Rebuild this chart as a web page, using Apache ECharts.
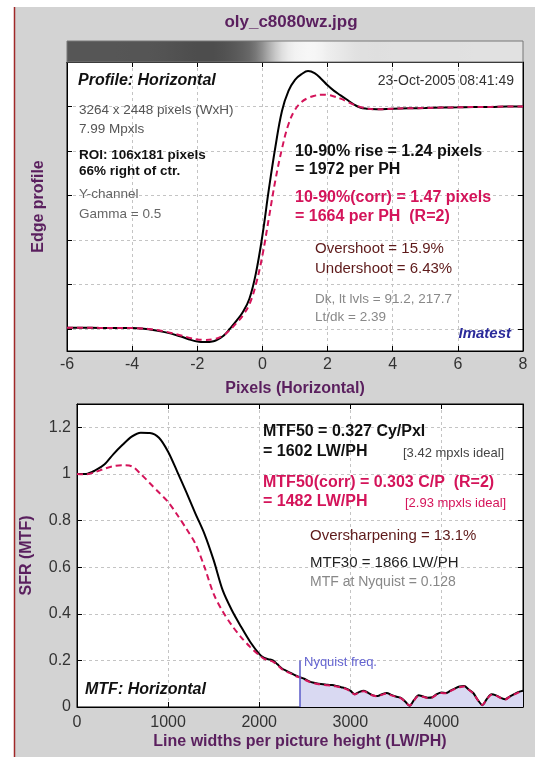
<!DOCTYPE html>
<html>
<head>
<meta charset="utf-8">
<script src="https://cdn.jsdelivr.net/npm/echarts@6.0.0/dist/echarts.min.js"></script>
<style>
  html, body { margin: 0; padding: 0; background: #fff; }
  #chart { width: 535px; height: 757px; }
</style>
</head>
<body>
<div id="chart"></div>
<script>
// edge profile (pixels, normalised level: dark = 0, light = 1)
var profX = [-6, -5.5, -5, -4.5, -4, -3.5, -3, -2.5, -2.2, -2, -1.8, -1.5, -1.2, -1, -0.8, -0.6, -0.4, -0.2, 0, 0.2, 0.4, 0.6, 0.8, 1, 1.2, 1.4, 1.6, 1.8, 2, 2.2, 2.4, 2.6, 2.8, 3, 3.2, 3.5, 4, 4.5, 5, 5.5, 6, 6.5, 7, 7.5, 8];
var profBlack = [0.005, 0.005, 0.004, 0.004, 0.003, -0.002, -0.015, -0.035, -0.05, -0.057, -0.06, -0.056, -0.032, 0.0, 0.035, 0.075, 0.135, 0.25, 0.42, 0.63, 0.82, 0.98, 1.07, 1.12, 1.145, 1.159, 1.15, 1.125, 1.095, 1.07, 1.05, 1.03, 1.01, 0.995, 0.99, 0.988, 0.99, 0.992, 0.993, 0.995, 0.996, 0.998, 0.998, 1.0, 1.0];
var profRed = [0.005, 0.005, 0.004, 0.004, 0.003, -0.001, -0.012, -0.03, -0.042, -0.048, -0.05, -0.047, -0.03, -0.005, 0.025, 0.06, 0.11, 0.2, 0.33, 0.5, 0.67, 0.81, 0.92, 0.985, 1.02, 1.038, 1.048, 1.053, 1.052, 1.045, 1.035, 1.022, 1.008, 0.998, 0.99, 0.987, 0.99, 0.992, 0.993, 0.995, 0.996, 0.998, 0.998, 1.0, 1.0];

// MTF (LW/PH)
var mtfX = [0, 100, 200, 300, 400, 500, 600, 700, 800, 900, 1000, 1100, 1200, 1300, 1400, 1500, 1600, 1700, 1800, 1900, 2000,
  2050, 2100, 2150, 2200, 2250, 2300, 2350, 2400, 2448, 2500, 2550, 2600, 2650, 2700, 2750, 2800, 2850, 2900, 2950, 3000,
  3050, 3100, 3150, 3200, 3250, 3300, 3350, 3400, 3450, 3500, 3550, 3600, 3650, 3700, 3750, 3800, 3850, 3900, 3950, 4000,
  4050, 4100, 4150, 4200, 4250, 4300, 4350, 4400, 4450, 4500, 4550, 4600, 4650, 4700, 4750, 4800, 4850, 4896];
var mtfBlack = [1.0, 1.0, 1.015, 1.04, 1.085, 1.125, 1.16, 1.177, 1.176, 1.155, 1.095, 1.01, 0.922, 0.83, 0.742, 0.63, 0.5, 0.415, 0.345, 0.28, 0.228,
  0.212, 0.205, 0.2, 0.183, 0.165, 0.155, 0.145, 0.135, 0.128, 0.12, 0.11, 0.104, 0.1, 0.098, 0.095, 0.094, 0.09, 0.085, 0.08, 0.07,
  0.055, 0.065, 0.07, 0.06, 0.05, 0.047, 0.055, 0.06, 0.052, 0.045, 0.04, 0.025, 0.005, 0.03, 0.05, 0.045, 0.04, 0.042, 0.055, 0.062,
  0.06, 0.07, 0.08, 0.088, 0.09, 0.075, 0.06, 0.03, 0.008, 0.035, 0.055, 0.05, 0.04, 0.033, 0.045, 0.055, 0.065, 0.07];
var mtfRed = [1.0, 0.998, 1.008, 1.022, 1.033, 1.037, 1.033, 1.0, 0.96, 0.92, 0.88, 0.825, 0.765, 0.7, 0.6, 0.485, 0.41, 0.35, 0.3, 0.258, 0.222,
  0.208, 0.2, 0.195, 0.18, 0.162, 0.152, 0.143, 0.133, 0.126, 0.117, 0.108, 0.102, 0.098, 0.096, 0.093, 0.092, 0.088, 0.083, 0.078, 0.068,
  0.054, 0.063, 0.068, 0.058, 0.049, 0.046, 0.053, 0.058, 0.05, 0.044, 0.039, 0.024, 0.006, 0.029, 0.048, 0.044, 0.039, 0.041, 0.053, 0.06,
  0.059, 0.068, 0.078, 0.085, 0.088, 0.074, 0.058, 0.03, 0.009, 0.034, 0.053, 0.049, 0.039, 0.032, 0.044, 0.054, 0.063, 0.068];
var nyquist = 2448;

var FONT = '"Liberation Sans", Arial, sans-serif';
var PURPLE = '#5a1f5e';
var CRIMSON = '#d4145a';

function zip(xs, ys) {
  return xs.map(function(x, i) { return [x, ys[i]]; });
}

function txt(x, y, s, font, color, align) {
  return {
    type: 'text', x: x, y: y, z: 100,
    style: { text: s, font: font + ' ' + FONT, fill: color, align: align || 'left', verticalAlign: 'middle' }
  };
}

// grey strip above the profile plot, built from the edge profile
var stops = profX.map(function(x, i) {
  var g = Math.round(Math.max(0, Math.min(250, 85 + profBlack[i] * 140)));
  return { offset: (x + 6) / 14, color: 'rgb(' + g + ',' + g + ',' + g + ')' };
});

var dash = { type: [3, 3], color: '#c4c4c4', width: 1 };
var blackLine = { color: '#000', width: 1 };

function boxAxis(extra) {
  var base = {
    type: 'value',
    axisLine: { show: true, onZero: false, lineStyle: blackLine },
    axisTick: { show: true, inside: true, length: 5, lineStyle: blackLine },
    axisLabel: { show: false },
    splitLine: { show: false }
  };
  return Object.assign(base, extra);
}

var myChart = echarts.init(document.getElementById('chart'), null, { renderer: 'canvas' });
var option = {
  backgroundColor: '#d3d3d3',
  animation: false,
  grid: [
    { left: 67, top: 62, width: 456, height: 289, show: true, backgroundColor: '#fff', borderColor: '#000', borderWidth: 1 },
    { left: 77, top: 404, width: 446, height: 303, show: true, backgroundColor: '#fff', borderColor: '#000', borderWidth: 1 }
  ],
  xAxis: [
    boxAxis({
      gridIndex: 0, min: -6, max: 8, interval: 2, position: 'bottom',
      axisLabel: { show: true, color: '#333', fontSize: 16, fontFamily: FONT, margin: 6 },
      splitLine: { show: true, lineStyle: dash },
      name: 'Pixels (Horizontal)', nameLocation: 'middle', nameGap: 30,
      nameTextStyle: { color: PURPLE, fontSize: 16, fontWeight: 'bold', fontFamily: FONT }
    }),
    boxAxis({ gridIndex: 0, min: -6, max: 8, interval: 2, position: 'top' }),
    boxAxis({
      gridIndex: 1, min: 0, max: 4896, interval: 1000, position: 'bottom',
      axisLabel: {
        show: true, color: '#333', fontSize: 16, fontFamily: FONT, margin: 8, showMaxLabel: false,
        formatter: function(v) { return String(v); }
      },
      splitLine: { show: true, lineStyle: dash },
      name: 'Line widths per picture height (LW/PH)', nameLocation: 'middle', nameGap: 27,
      nameTextStyle: { color: PURPLE, fontSize: 16, fontWeight: 'bold', fontFamily: FONT }
    }),
    boxAxis({ gridIndex: 1, min: 0, max: 4896, interval: 1000, position: 'top' })
  ],
  yAxis: [
    boxAxis({
      gridIndex: 0, min: -0.1, max: 1.2, splitNumber: 6, position: 'left',
      splitLine: { show: true, lineStyle: dash },
      name: 'Edge profile', nameLocation: 'middle', nameGap: 20,
      nameTextStyle: { color: PURPLE, fontSize: 16, fontWeight: 'bold', fontFamily: FONT }
    }),
    boxAxis({ gridIndex: 0, min: -0.1, max: 1.2, splitNumber: 6, position: 'right' }),
    boxAxis({
      gridIndex: 1, min: 0, max: 1.3, interval: 0.2, position: 'left',
      axisLabel: { show: true, color: '#333', fontSize: 16, fontFamily: FONT, margin: 6, showMaxLabel: false },
      splitLine: { show: true, lineStyle: dash },
      name: 'SFR (MTF)', nameLocation: 'middle', nameGap: 42,
      nameTextStyle: { color: PURPLE, fontSize: 16, fontWeight: 'bold', fontFamily: FONT }
    }),
    boxAxis({ gridIndex: 1, min: 0, max: 1.3, interval: 0.2, position: 'right' })
  ],
  series: [
    {
      name: 'profile', type: 'line', xAxisIndex: 0, yAxisIndex: 0, data: zip(profX, profBlack),
      showSymbol: false, smooth: 0.4, z: 3, lineStyle: { color: '#000', width: 2 }
    },
    {
      name: 'profile corr', type: 'line', xAxisIndex: 0, yAxisIndex: 0, data: zip(profX, profRed),
      showSymbol: false, smooth: 0.4, z: 4, lineStyle: { color: CRIMSON, width: 2, type: [6, 4] }
    },
    {
      name: 'beyond nyquist', type: 'line', xAxisIndex: 2, yAxisIndex: 2,
      data: zip(mtfX, mtfBlack).filter(function(p) { return p[0] >= nyquist; }),
      showSymbol: false, smooth: 0.3, z: 1,
      lineStyle: { width: 0, opacity: 0 },
      areaStyle: { color: '#d9d9f2', opacity: 1 },
      markLine: {
        silent: true, symbol: 'none', animation: false,
        label: { show: false },
        lineStyle: { color: '#5a5ac8', width: 1.5, type: 'solid' },
        data: [[{ coord: [nyquist, 0] }, { coord: [nyquist, 0.2] }]]
      }
    },
    {
      name: 'mtf', type: 'line', xAxisIndex: 2, yAxisIndex: 2, data: zip(mtfX, mtfBlack),
      showSymbol: false, smooth: 0.3, z: 3, lineStyle: { color: '#000', width: 2 }
    },
    {
      name: 'mtf corr', type: 'line', xAxisIndex: 2, yAxisIndex: 2, data: zip(mtfX, mtfRed),
      showSymbol: false, smooth: 0.3, z: 4, lineStyle: { color: CRIMSON, width: 2, type: [6, 4] }
    }
  ],
  graphic: [
    { type: 'rect', shape: { x: 0, y: 0, width: 14, height: 757 }, style: { fill: '#fff' }, z: 50 },
    { type: 'rect', shape: { x: 0, y: 0, width: 535, height: 7 }, style: { fill: '#fff' }, z: 50 },
    { type: 'line', shape: { x1: 14.5, y1: 7, x2: 14.5, y2: 757 }, style: { stroke: '#a02828', lineWidth: 1.5 }, z: 51 },
    {
      type: 'rect', shape: { x: 67, y: 41, width: 456, height: 21 }, z: 50,
      style: { fill: new echarts.graphic.LinearGradient(0, 0, 1, 0, stops), stroke: '#777', lineWidth: 1 }
    },
    txt(291, 22, 'oly_c8080wz.jpg', 'bold 17px', PURPLE, 'center'),

    txt(78, 81, 'Profile: Horizontal', 'italic bold 16px', '#111'),
    txt(514, 81, '23-Oct-2005 08:41:49', '14px', '#333', 'right'),
    txt(79, 110, '3264 x 2448 pixels (WxH)', '13.5px', '#555'),
    txt(79, 129, '7.99 Mpxls', '13.5px', '#555'),
    txt(79, 155, 'ROI: 106x181 pixels', 'bold 13.5px', '#111'),
    txt(79, 171, '66% right of ctr.', 'bold 13.5px', '#111'),
    txt(79, 194, 'Y-channel', '13.5px', '#666'),
    txt(79, 214, 'Gamma = 0.5', '13.5px', '#666'),
    txt(295, 152, '10-90% rise = 1.24 pixels', 'bold 16px', '#111'),
    txt(295, 170, '= 1972 per PH', 'bold 16px', '#111'),
    txt(295, 198, '10-90%(corr) = 1.47 pixels', 'bold 16px', CRIMSON),
    txt(295, 217, '= 1664 per PH  (R=2)', 'bold 16px', CRIMSON),
    txt(315, 249, 'Overshoot = 15.9%', '15px', '#5e1a1a'),
    txt(315, 269, 'Undershoot = 6.43%', '15px', '#5e1a1a'),
    txt(315, 299, 'Dk, lt lvls = 91.2, 217.7', '13.5px', '#888'),
    txt(315, 317, 'Lt/dk = 2.39', '13.5px', '#888'),
    txt(511, 334, 'Imatest', 'italic bold 15px', '#2a2a9a', 'right'),

    txt(263, 432, 'MTF50 = 0.327 Cy/Pxl', 'bold 16px', '#111'),
    txt(263, 452, '= 1602 LW/PH', 'bold 16px', '#111'),
    txt(403, 453, '[3.42 mpxls ideal]', '13px', '#444'),
    txt(263, 483, 'MTF50(corr) = 0.303 C/P  (R=2)', 'bold 16px', CRIMSON),
    txt(263, 502, '= 1482 LW/PH', 'bold 16px', CRIMSON),
    txt(405, 503, '[2.93 mpxls ideal]', '13px', CRIMSON),
    txt(310, 536, 'Oversharpening = 13.1%', '15px', '#5e1a1a'),
    txt(310, 563, 'MTF30 = 1866 LW/PH', '15px', '#222'),
    txt(310, 582, 'MTF at Nyquist = 0.128', '14px', '#888'),
    txt(304, 662, 'Nyquist freq.', '13px', '#6464d0'),
    txt(85, 690, 'MTF: Horizontal', 'italic bold 16px', '#111')
  ]
};
myChart.setOption(option);
</script>
</body>
</html>
